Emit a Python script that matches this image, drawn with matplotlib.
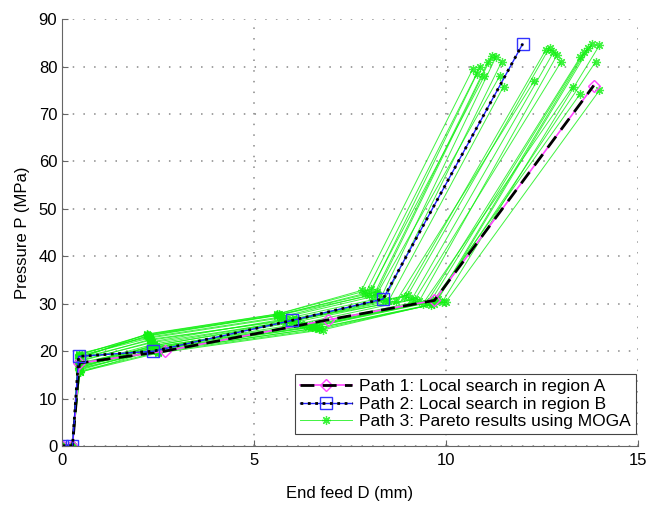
import matplotlib
matplotlib.use('Agg')
import matplotlib.pyplot as plt

plt.rcParams['font.family'] = ['Liberation Sans', 'DejaVu Sans']

###############################################################################
# Path 1 : local search in region A
path1_x = [0, 0.27, 0.45, 2.67, 6.93, 9.7, 13.85]
path1_y = [0, 0, 17.5, 20.0, 26.6, 30.7, 76.0]

# Path 2 : local search in region B
path2_x = [0, 0.27, 0.43, 2.38, 6.0, 8.36, 12.0]
path2_y = [0, 0, 18.9, 20.0, 26.5, 31.0, 84.8]

# Path 3 : Pareto results using MOGA (one row per path)
path3_x = [
    [0, 0.27, 0.43, 2.20, 5.60, 7.80, 10.70],
    [0, 0.27, 0.43, 2.25, 5.60, 7.90, 10.80],
    [0, 0.27, 0.44, 2.30, 5.70, 8.00, 10.90],
    [0, 0.27, 0.45, 2.20, 5.65, 8.05, 11.00],
    [0, 0.27, 0.43, 2.30, 5.70, 8.10, 11.10],
    [0, 0.27, 0.43, 2.25, 5.60, 8.20, 11.20],
    [0, 0.27, 0.44, 2.35, 5.80, 8.30, 11.30],
    [0, 0.27, 0.45, 2.40, 5.90, 8.40, 11.45],
    [0, 0.27, 0.44, 2.30, 5.80, 8.50, 11.50],
    [0, 0.27, 0.43, 2.20, 5.70, 8.20, 11.40],
    [0, 0.27, 0.44, 2.40, 6.00, 8.70, 12.30],
    [0, 0.27, 0.43, 2.35, 6.10, 8.90, 12.60],
    [0, 0.27, 0.43, 2.30, 6.00, 9.00, 12.70],
    [0, 0.27, 0.45, 2.40, 6.20, 9.10, 12.80],
    [0, 0.27, 0.44, 2.45, 6.30, 9.30, 12.90],
    [0, 0.27, 0.43, 2.30, 6.10, 9.20, 13.00],
    [0, 0.27, 0.46, 2.40, 6.40, 9.50, 13.50],
    [0, 0.27, 0.45, 2.45, 6.50, 9.60, 13.60],
    [0, 0.27, 0.44, 2.50, 6.60, 9.70, 13.70],
    [0, 0.27, 0.45, 2.40, 6.50, 9.80, 13.80],
    [0, 0.27, 0.46, 2.50, 6.70, 9.90, 14.00],
    [0, 0.27, 0.44, 2.45, 6.60, 9.75, 13.90],
    [0, 0.27, 0.45, 2.40, 6.50, 9.40, 13.30],
    [0, 0.27, 0.46, 2.50, 6.80, 9.60, 13.50],
    [0, 0.27, 0.45, 2.50, 6.70, 10.00, 14.00],
]
path3_y = [
    [0, 0, 19.2, 23.5, 27.8, 32.8, 79.5],
    [0, 0, 18.8, 23.2, 27.5, 32.2, 78.5],
    [0, 0, 19.5, 23.0, 27.2, 31.8, 80.0],
    [0, 0, 18.5, 23.6, 27.9, 33.0, 78.0],
    [0, 0, 19.0, 22.8, 27.0, 31.5, 81.0],
    [0, 0, 18.6, 23.3, 27.6, 32.5, 82.3],
    [0, 0, 17.8, 22.0, 26.8, 31.2, 82.0],
    [0, 0, 17.2, 21.5, 26.3, 30.8, 81.0],
    [0, 0, 16.5, 21.0, 26.0, 30.5, 75.8],
    [0, 0, 19.2, 23.4, 27.7, 32.0, 78.0],
    [0, 0, 17.0, 21.2, 26.0, 30.5, 77.0],
    [0, 0, 18.0, 21.8, 26.5, 31.5, 83.5],
    [0, 0, 18.5, 22.3, 26.8, 31.8, 84.0],
    [0, 0, 16.5, 20.8, 25.8, 30.8, 83.0],
    [0, 0, 17.5, 21.0, 25.5, 30.5, 82.5],
    [0, 0, 18.2, 22.5, 26.7, 31.0, 81.0],
    [0, 0, 15.5, 20.2, 25.0, 30.2, 82.0],
    [0, 0, 16.0, 20.5, 25.2, 30.5, 83.0],
    [0, 0, 17.0, 20.0, 24.8, 30.0, 84.0],
    [0, 0, 16.8, 20.6, 25.5, 31.0, 84.8],
    [0, 0, 15.8, 19.8, 24.6, 30.3, 84.5],
    [0, 0, 17.3, 20.8, 25.6, 30.8, 81.0],
    [0, 0, 16.2, 20.3, 25.0, 30.0, 75.8],
    [0, 0, 15.6, 19.6, 24.5, 29.8, 74.3],
    [0, 0, 16.4, 20.1, 24.9, 30.4, 75.0],
]

labels = ['Path 1: Local search in region A',
          'Path 2: Local search in region B',
          'Path 3: Pareto results using MOGA']
###############################################################################
fig = plt.figure(figsize=(6.61, 5.18), dpi=100)
ax = fig.add_axes([0.094, 0.139, 0.871, 0.824])

GREEN = '#11f011'
for xs, ys in zip(path3_x, path3_y):
    h3, = ax.plot(xs, ys, '-', color=GREEN, lw=0.7, alpha=0.8,
                  marker=(8, 2, 0), ms=6.5, mew=0.9, mec=GREEN)

# path 1 : magenta line + black dashes
h1a, = ax.plot(path1_x, path1_y, '-', color='#ff44ff', lw=1.2,
               marker='D', ms=6, mfc='none', mec='#ff44ff', mew=1)
h1b, = ax.plot(path1_x, path1_y, '--', color='black', lw=2.0, dashes=(5, 3))

# path 2 : blue line + black dots
h2a, = ax.plot(path2_x, path2_y, '-', color='#2222ff', lw=1.0,
               marker='s', ms=8, mfc='none', mec='#3333ff', mew=1)
h2b, = ax.plot(path2_x, path2_y, ':', color='black', lw=2.0)

ax.set_xlim(0, 15)
ax.set_ylim(0, 90)
ax.set_xticks([0, 5, 10, 15])
ax.set_yticks(range(0, 91, 10))

ax.grid(True, color='#888888', linestyle=(0, (1, 6)), lw=1.1)
for s in ['top', 'right']:
    ax.spines[s].set_visible(False)
for s in ['left', 'bottom']:
    ax.spines[s].set_color('#666666')
ax.tick_params(direction='in', length=4, colors='#666666', labelcolor='black',
               labelsize=12)
ax.tick_params(axis='x', pad=5)

ax.set_xlabel('End feed D (mm)', fontsize=12, labelpad=13)
ax.set_ylabel('Pressure P (MPa)', fontsize=12, labelpad=6)

leg = ax.legend([(h1a, h1b), (h2a, h2b), h3], labels, loc='lower right',
                bbox_to_anchor=(0.997, 0.028), fontsize=12.5, handlelength=3.0,
                fancybox=False, framealpha=1, edgecolor='#444444',
                borderpad=0.3, labelspacing=0.12, handletextpad=0.4,
                borderaxespad=0.0)
leg.get_frame().set_linewidth(0.8)

plt.savefig('out.png', dpi=100)
